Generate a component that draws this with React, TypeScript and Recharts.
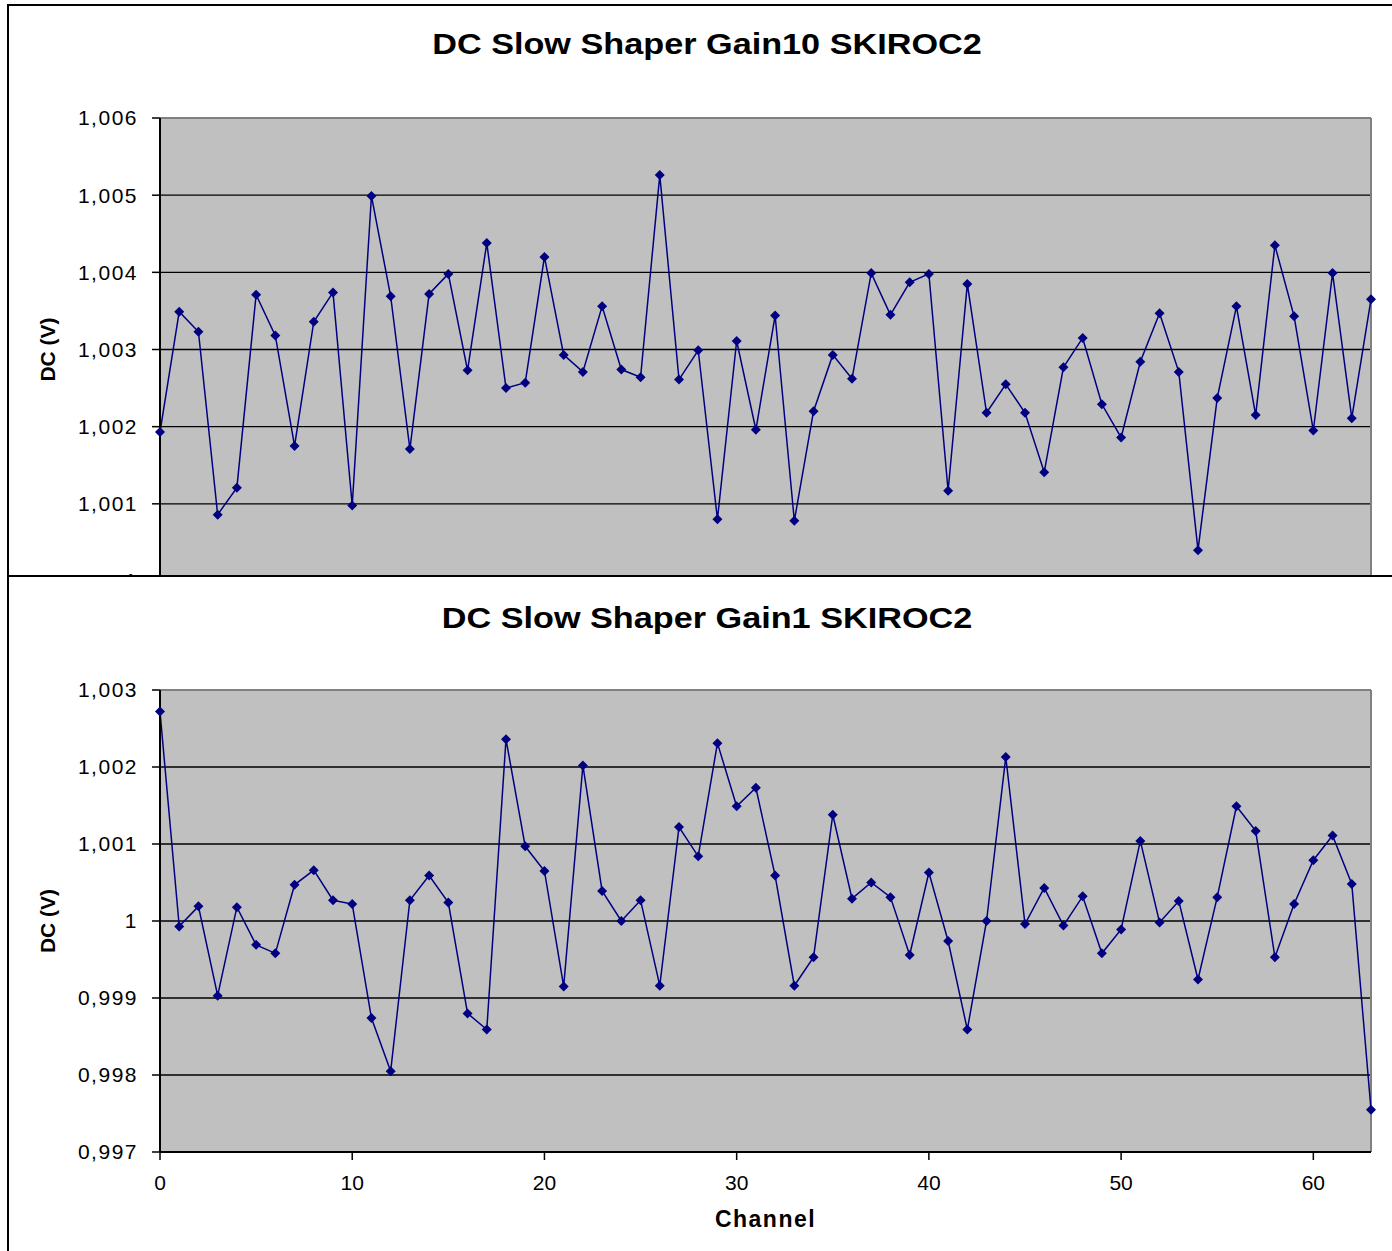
import React from "react"
import { LineChart, Line, XAxis, YAxis, CartesianGrid, ReferenceLine } from "recharts"

const channels = [
  0, 1, 2, 3, 4, 5, 6, 7, 8, 9, 10, 11, 12, 13, 14, 15, 16, 17, 18, 19, 20, 21, 22, 23, 24, 25, 26, 27, 28, 29, 30, 31,
  32, 33, 34, 35, 36, 37, 38, 39, 40, 41, 42, 43, 44, 45, 46, 47, 48, 49, 50, 51, 52, 53, 54, 55, 56, 57, 58, 59, 60,
  61, 62, 63,
]

const gain10 = [
  1.00193, 1.00349, 1.00323, 1.00086, 1.00121, 1.00371, 1.00318, 1.00175, 1.00336, 1.00374,
  1.00098, 1.00499, 1.00369, 1.00171, 1.00372, 1.00398, 1.00273, 1.00438, 1.0025, 1.00257,
  1.0042, 1.00293, 1.00271, 1.00356, 1.00274, 1.00264, 1.00526, 1.00261, 1.00299, 1.0008,
  1.00311, 1.00196, 1.00344, 1.00078, 1.0022, 1.00293, 1.00262, 1.00399, 1.00345, 1.00387,
  1.00398, 1.00117, 1.00385, 1.00218, 1.00255, 1.00218, 1.00141, 1.00277, 1.00315, 1.00229,
  1.00186, 1.00284, 1.00347, 1.00271, 1.0004, 1.00237, 1.00356, 1.00215, 1.00435, 1.00343,
  1.00195, 1.00399, 1.00211, 1.00365,
]

const gain1 = [
  1.00272, 0.99993, 1.00019, 0.99903, 1.00018, 0.99969, 0.99958, 1.00047, 1.00066, 1.00027,
  1.00022, 0.99874, 0.99805, 1.00027, 1.00059, 1.00024, 0.9988, 0.99859, 1.00236, 1.00097,
  1.00065, 0.99915, 1.00202, 1.00039, 1.0, 1.00027, 0.99916, 1.00122, 1.00084, 1.00231,
  1.00149, 1.00173, 1.00059, 0.99916, 0.99953, 1.00138, 1.00029, 1.0005, 1.00031, 0.99956,
  1.00063, 0.99974, 0.99859, 1.0, 1.00213, 0.99996, 1.00043, 0.99994, 1.00032, 0.99958,
  0.99989, 1.00104, 0.99998, 1.00026, 0.99924, 1.00031, 1.00149, 1.00117, 0.99953, 1.00022,
  1.00079, 1.00111, 1.00048, 0.99755,
]

const xTicks = [0, 10, 20, 30, 40, 50, 60]
const yTicksGain10 = [1.0, 1.001, 1.002, 1.003, 1.004, 1.005, 1.006]
const yTicksGain1 = [0.997, 0.998, 0.999, 1.0, 1.001, 1.002, 1.003]

const NAVY = "#000080"
const FONT = "'Liberation Sans', Arial, sans-serif"

// excel style: comma as decimal separator, "1" without decimals
const formatVolt = (v: number) => {
  if (Math.abs(v - 1) < 1e-9) return "1"
  return v.toFixed(3).replace(".", ",")
}

const Diamond = (props: any) => {
  const { cx, cy } = props
  if (cx == null || cy == null) return null
  return <polygon points={`${cx},${cy - 5} ${cx + 5},${cy} ${cx},${cy + 5} ${cx - 5},${cy}`} fill={NAVY} stroke="none" />
}

interface PanelProps {
  title: string
  values: number[]
  ticks: number[]
  top: number
  titleTop: number
  marginTop: number
  height: number
  xAxisHeight: number
  showXAxis: boolean
}

function Panel({ title, values, ticks, top, titleTop, marginTop, height, xAxisHeight, showXAxis }: PanelProps) {
  const data = channels.map((ch, i) => ({ ch, v: values[i] }))
  const lo = ticks[0]
  const hi = ticks[ticks.length - 1]
  return (
    <div
      style={{
        position: "absolute",
        left: 7,
        top,
        width: 1396,
        height: 760,
        border: "2px solid #000",
        background: "#fff",
      }}
    >
      <div
        style={{
          position: "absolute",
          left: 0,
          top: titleTop,
          width: "100%",
          textAlign: "center",
          fontSize: 29,
          lineHeight: "29px",
          fontWeight: "bold",
          transform: "scaleX(1.18)",
          transformOrigin: "center",
        }}
      >
        {title}
      </div>
      <div style={{ position: "absolute", left: 0, top: 0 }}>
        <LineChart width={1383} height={height} data={data} margin={{ top: marginTop, right: 21, left: 0, bottom: 0 }}>
          <CartesianGrid fill="#c0c0c0" fillOpacity={1} vertical={false} stroke="#000" strokeWidth={1.3} />
          <XAxis
            dataKey="ch"
            type="number"
            domain={[0, 63]}
            ticks={xTicks}
            interval={0}
            height={xAxisHeight}
            tickSize={8}
            tickMargin={15}
            axisLine={{ stroke: "#000", strokeWidth: 2 }}
            tickLine={showXAxis ? { stroke: "#000", strokeWidth: 1.5 } : false}
            tick={showXAxis ? { fill: "#000", fontSize: 21 } : false}
            label={
              showXAxis
                ? {
                    value: "Channel",
                    position: "insideBottom",
                    offset: 15,
                    fill: "#000",
                    fontSize: 23,
                    fontWeight: "bold",
                    letterSpacing: 1.5,
                  }
                : undefined
            }
          />
          <YAxis
            type="number"
            domain={[lo, hi]}
            ticks={ticks}
            interval={0}
            width={151}
            tickSize={8}
            tickMargin={14}
            tickFormatter={formatVolt}
            axisLine={{ stroke: "#000", strokeWidth: 2 }}
            tickLine={{ stroke: "#000", strokeWidth: 1.5 }}
            tick={{ fill: "#000", fontSize: 21, letterSpacing: 1.5 }}
            label={{ value: "DC (V)", angle: -90, position: "center", dx: -37, fill: "#000", fontSize: 21, fontWeight: "bold" }}
          />
          <ReferenceLine y={hi} stroke="#808080" strokeWidth={2} />
          <ReferenceLine x={63} stroke="#808080" strokeWidth={2} />
          <Line
            dataKey="v"
            type="linear"
            stroke={NAVY}
            strokeWidth={1.5}
            dot={<Diamond />}
            activeDot={false}
            isAnimationActive={false}
          />
        </LineChart>
      </div>
    </div>
  )
}

export default function App() {
  return (
    <div
      style={{
        position: "absolute",
        left: 0,
        top: 0,
        width: 1392,
        height: 1251,
        overflow: "hidden",
        background: "#fff",
        fontFamily: FONT,
        color: "#000",
      }}
    >
      <Panel
        title="DC Slow Shaper Gain10 SKIROC2"
        values={gain10}
        ticks={yTicksGain10}
        top={4}
        titleTop={24}
        marginTop={112}
        height={635}
        xAxisHeight={60}
        showXAxis={false}
      />
      <Panel
        title="DC Slow Shaper Gain1 SKIROC2"
        values={gain1}
        ticks={yTicksGain1}
        top={575}
        titleTop={27}
        marginTop={113}
        height={665}
        xAxisHeight={90}
        showXAxis={true}
      />
    </div>
  )
}
